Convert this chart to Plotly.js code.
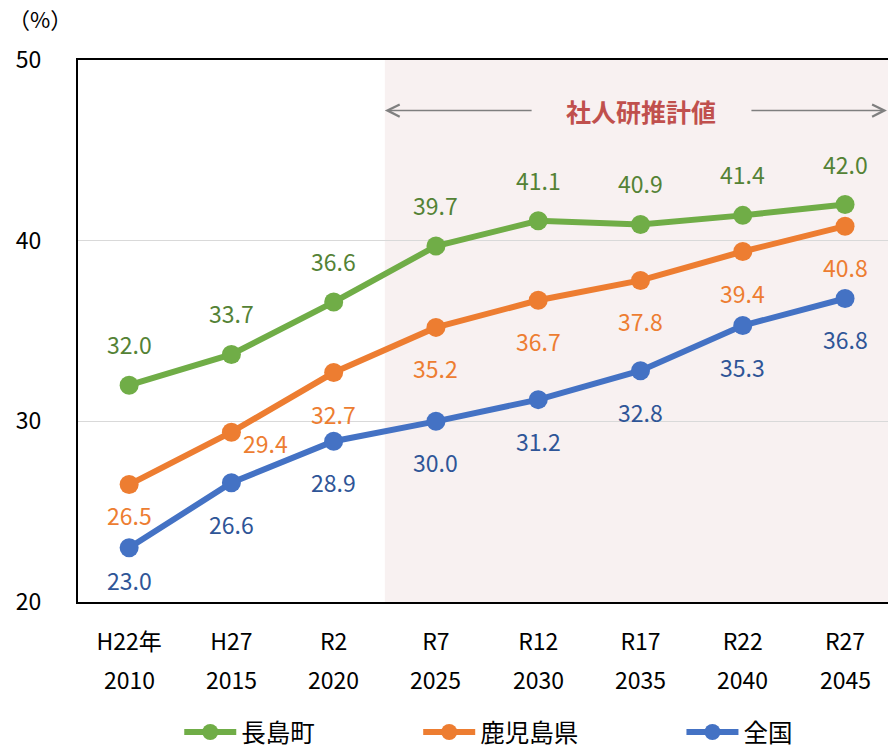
<!DOCTYPE html>
<html>
<head>
<meta charset="utf-8">
<script src="https://cdn.plot.ly/plotly-3.0.1.min.js"></script>
<style>html,body{margin:0;padding:0;background:#fff;}#chart{width:888px;height:749px;}</style>
</head>
<body>
<div id="chart"></div>
<script>
const eraLabels = ["H22年", "H27", "R2", "R7", "R12", "R17", "R22", "R27"];
const yearLabels = ["2010", "2015", "2020", "2025", "2030", "2035", "2040", "2045"];
const nagashima = [32.0, 33.7, 36.6, 39.7, 41.1, 40.9, 41.4, 42.0];
const kagoshima = [26.5, 29.4, 32.7, 35.2, 36.7, 37.8, 39.4, 40.8];
const zenkoku = [23.0, 26.6, 28.9, 30.0, 31.2, 32.8, 35.3, 36.8];
const seriesNames = ["長島町", "鹿児島県", "全国"];

const FONT = '"Noto Sans CJK JP", "Noto Sans", sans-serif';
const idx = eraLabels.map((_, i) => i);

const series = [
  {name: seriesNames[0], y: nagashima, color: '#70AD47', labelColor: '#548235', legend: 'legend',
   shifts: nagashima.map(() => [0, 41])},
  {name: seriesNames[1], y: kagoshima, color: '#ED7D31', labelColor: '#ED7D31', legend: 'legend2',
   shifts: kagoshima.map((_, i) => i === 0 ? [0, -30] : (i === 1 ? [34, -11] : [0, -41]))},
  {name: seriesNames[2], y: zenkoku, color: '#4472C4', labelColor: '#2F5597', legend: 'legend3',
   shifts: zenkoku.map((_, i) => i === 0 ? [0, -32] : [0, -41])}
];

const traces = series.map(s => ({
  type: 'scatter', mode: 'lines+markers', x: idx, y: s.y, name: s.name,
  line: {color: s.color, width: 6}, marker: {color: s.color, size: 19},
  legend: s.legend, hoverinfo: 'skip', cliponaxis: false
}));

const annotations = [];
series.forEach(s => {
  s.y.forEach((v, i) => {
    annotations.push({x: i, y: v, xref: 'x', yref: 'y', text: v.toFixed(1), showarrow: false,
      xshift: s.shifts[i][0], yshift: s.shifts[i][1],
      font: {family: FONT, size: 23, color: s.labelColor}});
  });
});
yearLabels.forEach((t, i) => {
  annotations.push({x: i, y: -0.142, xref: 'x', yref: 'paper', text: t, showarrow: false,
    yanchor: 'middle', font: {family: FONT, size: 23, color: '#000'}});
});
annotations.push({x: -0.047, y: 1.077, xref: 'paper', yref: 'paper', text: '（%）', showarrow: false,
  xanchor: 'center', yanchor: 'middle', font: {family: FONT, size: 22, color: '#000'}});
annotations.push({x: 5, y: 47.2, xref: 'x', yref: 'y', text: '<b>社人研推計値</b>', showarrow: false,
  font: {family: FONT, size: 25, color: '#C0504D'}});
annotations.push({x: 2.5, y: 47.2, xref: 'x', yref: 'y', ax: 3.95, ay: 47.2, axref: 'x', ayref: 'y',
  text: '', showarrow: true, arrowhead: 5, arrowsize: 1.6, arrowwidth: 1.5, arrowcolor: '#7F7F7F'});
annotations.push({x: 7.41, y: 47.2, xref: 'x', yref: 'y', ax: 6.07, ay: 47.2, axref: 'x', ayref: 'y',
  text: '', showarrow: true, arrowhead: 5, arrowsize: 1.6, arrowwidth: 1.5, arrowcolor: '#7F7F7F'});

const legendBase = {orientation: 'h', yanchor: 'middle', xanchor: 'left', y: -0.24,
  font: {family: FONT, size: 24.5, color: '#000'}, bgcolor: 'rgba(0,0,0,0)', itemwidth: 52, tracegroupgap: 0};

const layout = {
  width: 888, height: 749,
  margin: {l: 78, r: 0, t: 60, b: 147, autoexpand: false},
  paper_bgcolor: '#fff', plot_bgcolor: '#fff',
  font: {family: FONT, color: '#000'},
  xaxis: {
    range: [-0.5, 7.42], tickmode: 'array', tickvals: idx, ticktext: eraLabels,
    showgrid: false, zeroline: false, showline: true, linecolor: '#000', linewidth: 2, mirror: true,
    ticks: '', ticklabelstandoff: 18, tickfont: {family: FONT, size: 23, color: '#000'}, automargin: false
  },
  yaxis: {
    range: [20, 50], tickvals: [20, 30, 40, 50], showgrid: true, gridcolor: '#D9D9D9', gridwidth: 1,
    zeroline: false, showline: true, linecolor: '#000', linewidth: 2, automargin: false,
    ticks: '', ticklabelstandoff: 30, tickfont: {family: FONT, size: 23, color: '#000'}
  },
  shapes: [{type: 'rect', xref: 'x', yref: 'y', x0: 2.5, x1: 7.42, y0: 20, y1: 50,
    fillcolor: '#F8F1F1', line: {width: 0}, layer: 'below'}],
  annotations: annotations,
  showlegend: true,
  legend: Object.assign({}, legendBase, {x: 0.125}),
  legend2: Object.assign({}, legendBase, {x: 0.42}),
  legend3: Object.assign({}, legendBase, {x: 0.745})
};

Plotly.newPlot('chart', traces, layout, {displayModeBar: false, staticPlot: true});
</script>
</body>
</html>
